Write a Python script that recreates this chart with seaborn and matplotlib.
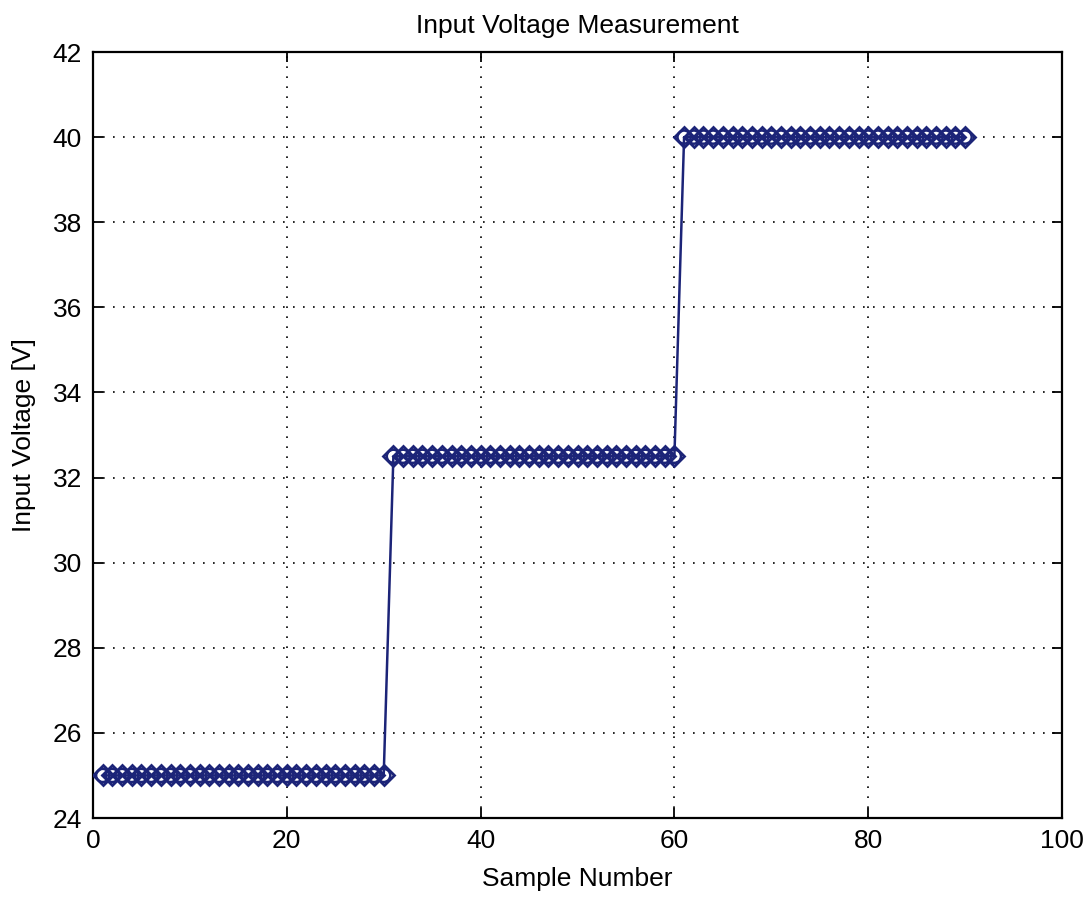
import numpy as np
import pandas as pd
import matplotlib
matplotlib.use("Agg")
import matplotlib.pyplot as plt
import seaborn as sns

sample_number = list(range(1, 91))
input_voltage = [25.0] * 30 + [32.5] * 30 + [40.0] * 30
x_ticks = [0, 20, 40, 60, 80, 100]
y_ticks = [24, 26, 28, 30, 32, 34, 36, 38, 40, 42]

df = pd.DataFrame({"Sample Number": sample_number, "Input Voltage [V]": input_voltage})

sns.set_theme(style="white")
plt.rcParams['font.family'] = ['Liberation Sans', 'DejaVu Sans']

fig = plt.figure(figsize=(10.91, 9.01), dpi=100)
ax = fig.add_axes([93/1091, 1 - 818/901, (1062-93)/1091, (818-52)/901])

color = "#1c2478"
sns.lineplot(data=df, x="Sample Number", y="Input Voltage [V]", ax=ax, color=color,
             linewidth=1.8, marker="D", markersize=10, markerfacecolor="none",
             markeredgecolor=color, markeredgewidth=2.0, zorder=3)
sns.scatterplot(data=df, x="Sample Number", y="Input Voltage [V]", ax=ax, marker="o",
                s=90, facecolor="none", edgecolor=color, linewidth=1.8, zorder=4)

ax.set_xlim(0, 100)
ax.set_ylim(24, 42)
ax.set_xticks(x_ticks)
ax.set_yticks(y_ticks)
ax.grid(True, color="black", linestyle=(0, (1, 5)), linewidth=1.2)
for s in ax.spines.values():
    s.set_color("black")
    s.set_linewidth(1.6)
ax.tick_params(direction="in", length=7, width=1.3, labelsize=19, colors="black",
               top=True, right=True, bottom=True, left=True, pad=8)
ax.set_xlabel("Sample Number", fontsize=19, labelpad=10, color="black")
ax.set_ylabel("Input Voltage [V]", fontsize=19, labelpad=12, color="black")
ax.set_title("Input Voltage Measurement", fontsize=19, pad=14, color="black")

fig.savefig("out.png", dpi=100)
